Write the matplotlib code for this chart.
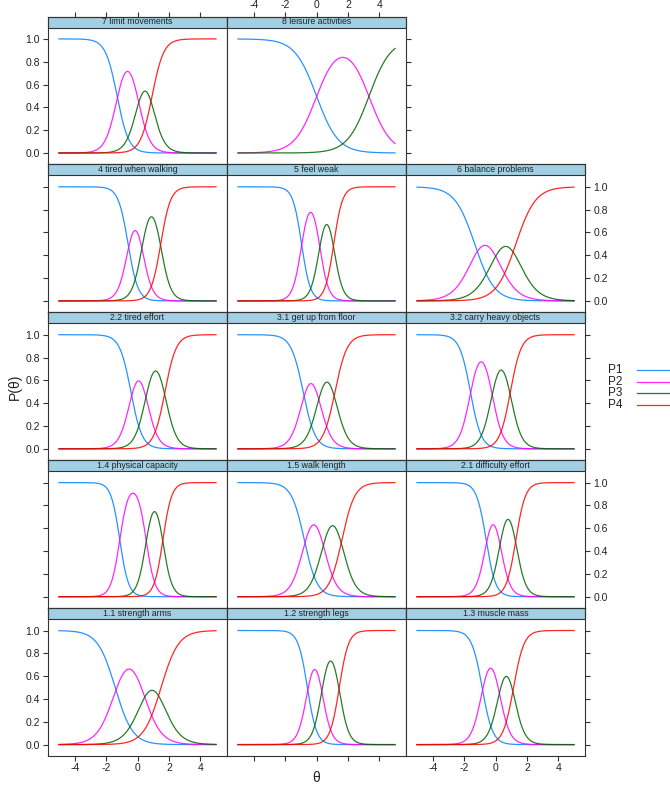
import numpy as np
import matplotlib
matplotlib.use("Agg")
import matplotlib.pyplot as plt
from matplotlib.patches import Rectangle
from matplotlib.lines import Line2D

plt.rcParams['font.family'] = ['Liberation Sans', 'DejaVu Sans']
plt.rcParams['axes.unicode_minus'] = False

# item panels, top-left to bottom-right (lattice layout, 3 columns)
item_labels = ["7 limit movements", "8 leisure activities",
               "4 tired when walking", "5 feel weak", "6 balance problems",
               "2.2 tired effort", "3.1 get up from floor", "3.2 carry heavy objects",
               "1.4 physical capacity", "1.5 walk length", "2.1 difficulty effort",
               "1.1 strength arms", "1.2 strength legs", "1.3 muscle mass"]
panel_rows = [0, 0, 1, 1, 1, 2, 2, 2, 3, 3, 3, 4, 4, 4]
panel_cols = [0, 1, 0, 1, 2, 0, 1, 2, 0, 1, 2, 0, 1, 2]

# graded response model parameters
discrimination = [2.7, 1.45, 3.2, 3.6, 1.6, 2.8, 2.6, 2.9, 3.6, 2.45, 3.3, 1.8, 3.4, 3.0]
b1 = [-1.30, 0.00, -0.60, -0.95, -1.33, -0.42, -0.85, -1.60, -1.13, -0.78, -0.60, -1.42, -0.58, -0.85]
b2 = [0.03, 3.35, 0.30, 0.20, 0.00, 0.56, 0.15, -0.22, 0.55, 0.43, 0.30, 0.35, 0.35, 0.23]
b3 = [0.93, None, 1.48, 1.10, 1.30, 1.75, 1.18, 0.95, 1.62, 1.62, 1.30, 1.50, 1.45, 1.15]

category_labels = ["P1", "P2", "P3", "P4"]
line_colors = ["#0080ff", "#ff00ff", "darkgreen", "#ff0000"]

theta = np.linspace(-5, 5, 201)

W, H = 670, 786
fig = plt.figure(figsize=(W / 100, H / 100), dpi=100)

col_left = [48, 227, 406]
panel_w = 179
row_top0 = 16.5
panel_h = 147.9
strip_h = 11
plot_h = panel_h - strip_h
ylo, yhi = -0.1, 1.1
ytop = yhi + (yhi - ylo) * strip_h / plot_h
edge = "#333333"


def trace_lines(a, bs):
    pstar = [np.ones_like(theta)]
    for b in bs:
        pstar.append(1 / (1 + np.exp(-a * (theta - b))))
    pstar.append(np.zeros_like(theta))
    return [pstar[k] - pstar[k + 1] for k in range(len(bs) + 1)]


for i, label in enumerate(item_labels):
    r, c = panel_rows[i], panel_cols[i]
    top = row_top0 + r * panel_h
    ax = fig.add_axes([col_left[c] / W, 1 - (top + panel_h) / H,
                       panel_w / W, panel_h / H])
    ax.set_xlim(-5.7, 5.7)
    ax.set_ylim(ylo, ytop)

    bs = [b for b in (b1[i], b2[i], b3[i]) if b is not None]
    for k, p in enumerate(trace_lines(discrimination[i], bs)):
        ax.plot(theta, p, color=line_colors[k], lw=0.9, alpha=0.85)

    # strip on top of the panel
    sy = plot_h / panel_h
    ax.add_patch(Rectangle((0, sy), 1, 1 - sy, transform=ax.transAxes,
                           facecolor="#a3cfe4", edgecolor=edge, lw=0.8, clip_on=False))
    ax.text(0.5, sy + (1 - sy) / 2, label, transform=ax.transAxes,
            ha="center", va="center", fontsize=6.3, color="#222222")

    for s in ax.spines.values():
        s.set_color(edge)
        s.set_linewidth(0.8)

    ax.set_xticks([-4, -2, 0, 2, 4])
    ax.set_yticks([0, 0.2, 0.4, 0.6, 0.8, 1.0])
    ax.set_yticklabels(["0.0", "0.2", "0.4", "0.6", "0.8", "1.0"])
    ax.tick_params(direction="out", length=3.5, width=0.8, color=edge,
                   labelsize=7.5, labelcolor="#222222", pad=2.5,
                   left=False, right=False, top=False, bottom=False,
                   labelleft=False, labelright=False, labeltop=False, labelbottom=False)
    ax.tick_params(axis="x", which="both", pad=1.5)

    # lattice style alternating axes
    if c == 0:
        ax.tick_params(left=True, labelleft=(r % 2 == 0))
    if c == 2 or (r == 0 and c == 1):
        ax.tick_params(right=True, labelright=(r % 2 == 1))
    if r == 0:
        ax.tick_params(top=True, labeltop=(c == 1))
    if r == 4:
        ax.tick_params(bottom=True, labelbottom=(c != 1))

fig.text(15 / W, 1 - 387 / H, "P(θ)", rotation=90, ha="center", va="center",
         fontsize=10, color="#222222")
fig.text(316 / W, 1 - 778 / H, "θ", ha="center", va="center", fontsize=10, color="#222222")

# legend on the right
for k, name in enumerate(category_labels):
    y = 1 - (370 + 11.7 * k) / H
    fig.text(608 / W, y, name, ha="left", va="center", fontsize=8.5, color="#222222")
    fig.add_artist(Line2D([637 / W, 670 / W], [y, y], color=line_colors[k],
                          lw=0.9, alpha=0.85, transform=fig.transFigure))

fig.savefig("out.png", dpi=100)
